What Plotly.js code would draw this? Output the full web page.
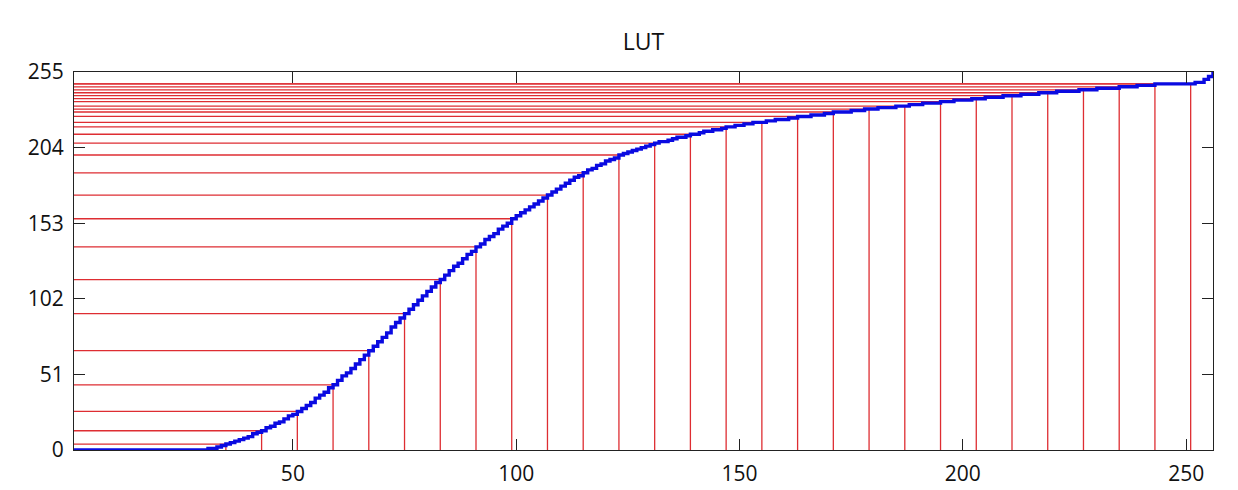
<!DOCTYPE html>
<html>
<head>
<meta charset="utf-8">
<script src="https://cdn.plot.ly/plotly-3.0.1.min.js"></script>
<style>
html,body{margin:0;padding:0;background:#fff;}
#chart{width:1238px;height:490px;}
</style>
</head>
<body>
<div id="chart"></div>
<script>
// Input levels 1..256
const inputLevels = Array.from({length: 256}, (_, i) => i + 1);

// LUT output values (index 0 -> input 1)
const lutValues = [
  0,0,0,0,0,0,0,0,0,0,            // 1-10
  0,0,0,0,0,0,0,0,0,0,            // 11-20
  0,0,0,0,0,0,0,0,0,0,            // 21-30
  1,1,2,3,4,5,6,7,8,9,            // 31-40
  11,12,13,15,16,18,19,21,23,24,  // 41-50
  26,28,30,32,35,37,39,42,44,47,  // 51-60
  50,52,55,58,61,64,67,70,73,76,  // 61-70
  79,83,86,89,92,95,98,101,104,107, // 71-80
  110,113,115,118,121,124,126,129,132,134, // 81-90
  137,139,142,144,146,149,151,153,156,158, // 91-100
  160,162,164,166,168,170,172,174,176,178, // 101-110
  180,182,184,185,187,189,190,192,193,195, // 111-120
  196,197,199,200,201,202,203,204,205,206, // 121-130
  207,208,208,209,210,211,211,212,213,213, // 131-140
  214,215,215,216,216,217,218,218,219,219, // 141-150
  220,220,221,221,221,222,222,223,223,223, // 151-160
  224,224,225,225,225,226,226,226,227,227, // 161-170
  228,228,228,228,229,229,229,230,230,230, // 171-180
  231,231,231,231,232,232,232,233,233,233, // 181-190
  234,234,234,234,235,235,235,236,236,236, // 191-200
  236,237,237,237,238,238,238,238,239,239, // 201-210
  239,239,240,240,240,240,241,241,241,241, // 211-220
  242,242,242,242,242,243,243,243,243,244, // 221-230
  244,244,244,244,245,245,245,245,246,246, // 231-240
  246,246,247,247,247,247,247,247,247,247, // 241-250
  247,248,248,250,252,255                  // 251-256
];

// Sampled input levels marked with red guide lines
const sampleInputs = [35,43,51,59,67,75,83,91,99,107,115,123,131,139,147,155,163,171,179,187,195,203,211,219,227,235,243,251];

const xTicks = [50,100,150,200,250];
const yTicks = [0,51,102,153,204,255];
const chartTitle = 'LUT';

// Build guide line trace (vertical from 0 to curve, horizontal from left edge to curve)
const gx = [], gy = [];
sampleInputs.forEach(s => {
  const v = lutValues[inputLevels.indexOf(s)];
  gx.push(s, s, null); gy.push(0, v, null);
  gx.push(inputLevels[0], s, null); gy.push(v, v, null);
});

const FONT = '"Open Sans", "Liberation Sans", sans-serif';

const traces = [
  {
    x: gx, y: gy, type: 'scatter', mode: 'lines',
    line: {color: 'rgb(222,45,50)', width: 1.3},
    hoverinfo: 'skip', showlegend: false
  },
  {
    x: inputLevels, y: lutValues, type: 'scatter', mode: 'lines',
    line: {color: 'rgb(10,10,225)', width: 3.4, shape: 'hv'},
    showlegend: false
  }
];

const axisCommon = {
  showgrid: false, zeroline: false, showline: true, linecolor: '#222', linewidth: 1,
  mirror: 'ticks', ticks: 'inside', ticklen: 11, tickwidth: 1, tickcolor: '#222',
  tickfont: {family: FONT, size: 21, color: '#111'}
};

const layout = {
  width: 1238, height: 490,
  margin: {l: 74, r: 25, t: 72, b: 40},
  paper_bgcolor: '#fff', plot_bgcolor: '#fff',
  title: {text: chartTitle, font: {family: FONT, size: 23, color: '#111'},
          x: 0.5, xref: 'paper', y: 1 - 42/490, yref: 'container', yanchor: 'middle'},
  xaxis: Object.assign({}, axisCommon, {range: [1, 256], tickvals: xTicks, ticktext: xTicks.map(String), ticklabelstandoff: 5}),
  yaxis: Object.assign({}, axisCommon, {range: [0, 255], tickvals: yTicks, ticktext: yTicks.map(String), ticklabelstandoff: 5}),
  showlegend: false
};

Plotly.newPlot('chart', traces, layout, {displayModeBar: false, staticPlot: true});
</script>
</body>
</html>
